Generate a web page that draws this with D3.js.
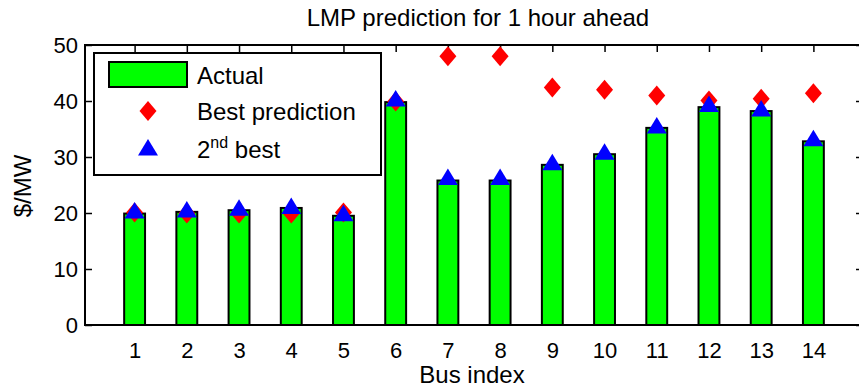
<!DOCTYPE html>
<html>
<head>
<meta charset="utf-8">
<script src="https://cdn.jsdelivr.net/npm/d3@7"></script>
<style>
  html, body { margin: 0; padding: 0; background: #fff; }
  svg { display: block; }
  text { font-family: "Liberation Sans", Arial, sans-serif; fill: #000; }
</style>
</head>
<body>
<script>
// Bus indices and LMP values ($/MW)
const buses = [1, 2, 3, 4, 5, 6, 7, 8, 9, 10, 11, 12, 13, 14];
const actual = [19.9, 20.2, 20.5, 20.9, 19.5, 39.8, 25.8, 25.8, 28.6, 30.5, 35.2, 38.9, 38.2, 32.8];
const bestPrediction = [20.1, 19.9, 19.9, 19.9, 20.1, 39.9, 48.0, 48.0, 42.4, 42.0, 41.0, 40.1, 40.4, 41.4];
const secondBest = [20.0, 20.2, 20.5, 20.8, 19.5, 40.0, 26.0, 26.0, 28.6, 30.5, 35.2, 39.0, 38.2, 32.9];
const yTicks = [0, 10, 20, 30, 40, 50];

const W = 859, H = 389;
const plot = { left: 85, right: 863, top: 45, bottom: 325 };

const svg = d3.select("body").append("svg")
  .attr("width", W).attr("height", H);

const x = d3.scaleLinear().domain([0.05, 14.95]).range([plot.left, plot.right]);
const y = d3.scaleLinear().domain([0, 50]).range([plot.bottom, plot.top]);
const barW = x(0.4) - x(0);

// axes: inward ticks on all four sides
const tick = 7;
const gLeft = svg.append("g").attr("transform", `translate(${plot.left},0)`)
  .call(d3.axisLeft(y).tickValues(yTicks).tickSizeInner(-tick).tickSizeOuter(0).tickPadding(7));
const gRight = svg.append("g").attr("transform", `translate(${plot.right},0)`)
  .call(d3.axisRight(y).tickValues(yTicks).tickSizeInner(-tick).tickSizeOuter(0).tickFormat(""));
const gBottom = svg.append("g").attr("transform", `translate(0,${plot.bottom})`)
  .call(d3.axisBottom(x).tickValues(buses).tickSizeInner(-tick).tickSizeOuter(0).tickPadding(17));
const gTop = svg.append("g").attr("transform", `translate(0,${plot.top})`)
  .call(d3.axisTop(x).tickValues(buses).tickSizeInner(-tick).tickSizeOuter(0).tickFormat(""));
[gLeft, gRight, gBottom, gTop].forEach(g => {
  g.select(".domain").remove();
  g.selectAll(".tick line").attr("stroke", "#000").attr("stroke-width", 1.5);
  g.selectAll("text").attr("font-size", 22).attr("font-family", "Liberation Sans, Arial, sans-serif").attr("fill", "#000");
});

// bars
svg.append("g").selectAll("rect").data(buses).join("rect")
  .attr("x", (d) => x(d) - barW / 2)
  .attr("width", barW)
  .attr("y", (d, i) => y(actual[i]))
  .attr("height", (d, i) => y(0) - y(actual[i]))
  .attr("fill", "#00ff00")
  .attr("stroke", "#000")
  .attr("stroke-width", 2);

// marker shapes
const diamond = (cx, cy) => `M${cx},${cy - 10}L${cx + 8.5},${cy}L${cx},${cy + 10}L${cx - 8.5},${cy}Z`;
const triangle = (cx, cy) => `M${cx},${cy - 11}L${cx + 10},${cy + 5.5}L${cx - 10},${cy + 5.5}Z`;

svg.append("g").selectAll("path").data(buses).join("path")
  .attr("d", (d, i) => diamond(x(d), y(bestPrediction[i])))
  .attr("fill", "#ff0000");

svg.append("g").selectAll("path").data(buses).join("path")
  .attr("d", (d, i) => triangle(x(d), y(secondBest[i])))
  .attr("fill", "#0000ff");

// frame
const frame = svg.append("g").attr("stroke", "#000").attr("stroke-width", 2).attr("fill", "none");
frame.append("line").attr("x1", plot.left).attr("x2", plot.left).attr("y1", plot.top - 1).attr("y2", plot.bottom + 1);
frame.append("line").attr("x1", plot.left).attr("x2", plot.right).attr("y1", plot.bottom).attr("y2", plot.bottom);
frame.append("line").attr("x1", plot.left).attr("x2", plot.right).attr("y1", plot.top).attr("y2", plot.top);
frame.append("line").attr("x1", plot.right).attr("x2", plot.right).attr("y1", plot.top).attr("y2", plot.bottom);

// legend
const lg = svg.append("g");
lg.append("rect").attr("x", 94).attr("y", 53).attr("width", 287).attr("height", 122)
  .attr("fill", "#fff").attr("stroke", "#000").attr("stroke-width", 2);
lg.append("rect").attr("x", 109).attr("y", 62).attr("width", 78).attr("height", 25)
  .attr("fill", "#00ff00").attr("stroke", "#000").attr("stroke-width", 2);
lg.append("path").attr("d", diamond(148, 111)).attr("fill", "#ff0000");
lg.append("path").attr("d", triangle(148, 150)).attr("fill", "#0000ff");
const lgText = lg.append("g").attr("font-size", 24);
lgText.append("text").attr("x", 197).attr("y", 84).text("Actual");
lgText.append("text").attr("x", 197).attr("y", 120).text("Best prediction");
const t2 = lgText.append("text").attr("x", 197).attr("y", 158);
t2.append("tspan").text("2");
t2.append("tspan").attr("font-size", 16).attr("dy", -10).text("nd");
t2.append("tspan").attr("dy", 10).text(" best");

// titles
svg.append("text").attr("x", 478).attr("y", 26).attr("text-anchor", "middle")
  .attr("font-size", 24).text("LMP prediction for 1 hour ahead");
svg.append("text").attr("x", 472).attr("y", 383).attr("text-anchor", "middle")
  .attr("font-size", 24).text("Bus index");
svg.append("text").attr("transform", "translate(31,186) rotate(-90)").attr("text-anchor", "middle")
  .attr("font-size", 24).text("$/MW");
</script>
</body>
</html>
